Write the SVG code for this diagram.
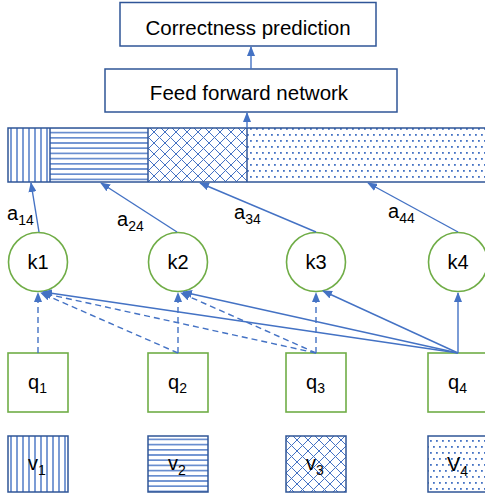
<svg xmlns="http://www.w3.org/2000/svg" width="485" height="497" viewBox="0 0 485 497">
<style>
text{font-family:"Liberation Sans",Arial,sans-serif;fill:#000}
.big{font-size:20.5px}
.lbl{font-size:20px}
.sub{font-size:14px}
.box{fill:#fff;stroke:#2F5597;stroke-width:1.5}
.grn{fill:#fff;stroke:#70AD47;stroke-width:1.6}
.val{stroke:#2F5597;stroke-width:1.5}
.c{fill:none;stroke:#4472C4;stroke-width:1.4}
.d{stroke-dasharray:6 4}
</style>
<defs>
<marker id="ah" markerUnits="userSpaceOnUse" markerWidth="10" markerHeight="8" refX="9" refY="4" orient="auto">
<path d="M0,0 L10,4 L0,8 z" fill="#4472C4"/>
</marker>
<pattern id="pv" patternUnits="userSpaceOnUse" width="6" height="6" x="8" y="0">
<rect width="6" height="6" fill="#fff"/>
<line x1="3" y1="0" x2="3" y2="6" stroke="#4472C4" stroke-width="1.4"/>
</pattern>
<pattern id="ph" patternUnits="userSpaceOnUse" width="6" height="5.2" x="0" y="0">
<rect width="6" height="5.2" fill="#fff"/>
<line x1="0" y1="2.6" x2="6" y2="2.6" stroke="#4472C4" stroke-width="1.4"/>
</pattern>
<pattern id="px" patternUnits="userSpaceOnUse" width="11" height="11">
<rect width="11" height="11" fill="#fff"/>
<path d="M0,0 L11,11 M11,0 L0,11" stroke="#4472C4" stroke-width="1"/>
</pattern>
<pattern id="pd" patternUnits="userSpaceOnUse" width="6" height="12">
<rect width="6" height="12" fill="#fff"/>
<rect x="1" y="2" width="1.8" height="1.8" fill="#4472C4"/>
<rect x="4" y="8" width="1.8" height="1.8" fill="#4472C4"/>
</pattern>
</defs>

<g id="correctness">
<rect class="box" x="120" y="2.5" width="256" height="43.5"/>
<text class="big" x="248" y="35" text-anchor="middle">Correctness prediction</text>
</g>
<g id="ffn">
<rect class="box" x="105" y="69" width="292" height="43"/>
<text class="big" x="249" y="100" text-anchor="middle">Feed forward network</text>
</g>
<g id="attention-bar">
<rect x="8" y="128" width="42" height="54" fill="url(#pv)"/>
<rect x="50" y="128" width="98" height="54" fill="url(#ph)"/>
<rect x="148" y="128" width="99" height="54" fill="url(#px)"/>
<rect x="247" y="128" width="240" height="54" fill="url(#pd)"/>
<rect x="8" y="128" width="480" height="54" fill="none" stroke="#2F5597" stroke-width="1.5"/>
<line class="val" x1="50" y1="128" x2="50" y2="182"/>
<line class="val" x1="148" y1="128" x2="148" y2="182"/>
<line class="val" x1="247" y1="128" x2="247" y2="182"/>
</g>

<g id="k1"><circle class="grn" cx="38" cy="262" r="29.5"/><text class="lbl" x="38" y="269" text-anchor="middle">k1</text></g>
<g id="k2"><circle class="grn" cx="178" cy="262" r="29.5"/><text class="lbl" x="178" y="269" text-anchor="middle">k2</text></g>
<g id="k3"><circle class="grn" cx="316" cy="262" r="29.5"/><text class="lbl" x="316" y="269" text-anchor="middle">k3</text></g>
<g id="k4"><circle class="grn" cx="458" cy="262" r="29.5"/><text class="lbl" x="458" y="269" text-anchor="middle">k4</text></g>

<g id="q1"><rect class="grn" x="8" y="353" width="60" height="59"/><text class="lbl" x="28" y="389">q<tspan class="sub" dy="4">1</tspan></text></g>
<g id="q2"><rect class="grn" x="148" y="353" width="60" height="59"/><text class="lbl" x="168" y="389">q<tspan class="sub" dy="4">2</tspan></text></g>
<g id="q3"><rect class="grn" x="286" y="353" width="60" height="59"/><text class="lbl" x="306" y="389">q<tspan class="sub" dy="4">3</tspan></text></g>
<g id="q4"><rect class="grn" x="428" y="353" width="60" height="59"/><text class="lbl" x="448" y="389">q<tspan class="sub" dy="4">4</tspan></text></g>

<g id="v1"><rect class="val" x="8" y="436" width="60" height="56" fill="url(#pv)"/><text class="lbl" x="28" y="470">v<tspan class="sub" dy="5">1</tspan></text></g>
<g id="v2"><rect class="val" x="148" y="436" width="60" height="56" fill="url(#ph)"/><text class="lbl" x="168" y="470">v<tspan class="sub" dy="5">2</tspan></text></g>
<g id="v3"><rect class="val" x="286" y="436" width="60" height="56" fill="url(#px)"/><text class="lbl" x="306" y="470">v<tspan class="sub" dy="5">3</tspan></text></g>
<g id="v4"><rect class="val" x="428" y="436" width="60" height="56" fill="url(#pd)"/><text class="lbl" x="447" y="471">V<tspan class="sub" dy="5">4</tspan></text></g>

<g id="labels">
<text class="lbl" x="7" y="220">a<tspan class="sub" dy="5">14</tspan></text>
<text class="lbl" x="117" y="226">a<tspan class="sub" dy="5">24</tspan></text>
<text class="lbl" x="234" y="219">a<tspan class="sub" dy="5">34</tspan></text>
<text class="lbl" x="388" y="218">a<tspan class="sub" dy="5">44</tspan></text>
</g>

<g id="connectors">
<line class="c" x1="251" y1="69" x2="251" y2="47" marker-end="url(#ah)"/>
<line class="c" x1="247" y1="128" x2="247" y2="113" marker-end="url(#ah)"/>
<line class="c" x1="39" y1="232" x2="31" y2="183" marker-end="url(#ah)"/>
<line class="c" x1="177" y1="232" x2="101" y2="183" marker-end="url(#ah)"/>
<line class="c" x1="316" y1="232" x2="200" y2="183" marker-end="url(#ah)"/>
<line class="c" x1="458" y1="232" x2="368" y2="183" marker-end="url(#ah)"/>
<line class="c d" x1="38" y1="353" x2="38" y2="293" marker-end="url(#ah)"/>
<line class="c d" x1="178" y1="353" x2="41" y2="293" marker-end="url(#ah)"/>
<line class="c d" x1="178" y1="353" x2="178" y2="293" marker-end="url(#ah)"/>
<line class="c d" x1="316" y1="353" x2="42" y2="293" marker-end="url(#ah)"/>
<line class="c d" x1="316" y1="353" x2="181" y2="293" marker-end="url(#ah)"/>
<line class="c d" x1="316" y1="353" x2="316" y2="293" marker-end="url(#ah)"/>
<line class="c" x1="458" y1="353" x2="43" y2="292" marker-end="url(#ah)"/>
<line class="c" x1="458" y1="353" x2="183" y2="292" marker-end="url(#ah)"/>
<line class="c" x1="458" y1="353" x2="323" y2="291" marker-end="url(#ah)"/>
<line class="c" x1="458" y1="353" x2="458" y2="293" marker-end="url(#ah)"/>
</g>
</svg>
